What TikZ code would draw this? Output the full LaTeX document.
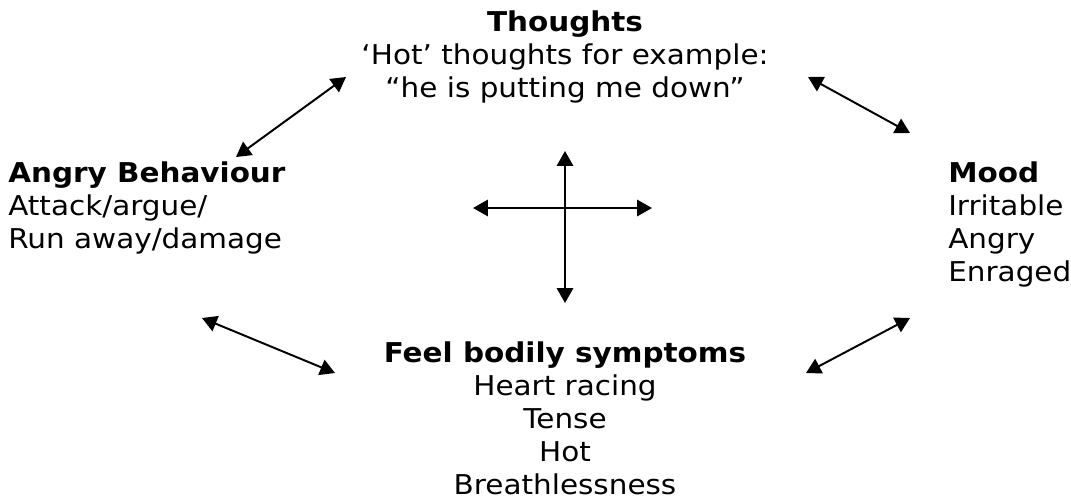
\documentclass[tikz,border=0pt]{standalone}
\usepackage{fontspec}
\setmainfont[FakeStretch=1.08]{DejaVu Sans}
\usetikzlibrary{positioning, arrows.meta}

\begin{document}
\begin{tikzpicture}[x=0.025cm, y=-0.025cm,
    txt/.style={inner sep=0pt, font=\fontsize{19.4}{23.5}\selectfont},
    link/.style={line width=1.4pt, {Triangle[length=10.5pt,width=11.5pt]}-{Triangle[length=10.5pt,width=11.5pt]}}]
  \useasboundingbox (0,0) rectangle (1071,502);

  % The four boxes of text
  \node[txt, align=center, anchor=north] (thoughts) at (565,10.5)
    {\textbf{Thoughts}\\ `Hot' thoughts for example:\\ ``he is putting me down''};
  \node[txt, align=left, anchor=north west] (behaviour) at (8,161.5)
    {\textbf{Angry Behaviour}\\ Attack/argue/\\ Run away/damage};
  \node[txt, align=left, anchor=north west] (mood) at (948,161.5)
    {\textbf{Mood}\\ Irritable\\ Angry\\ Enraged};
  \node[txt, align=center, anchor=north] (body) at (565,341.5)
    {\textbf{Feel bodily symptoms}\\ Heart racing\\ Tense\\ Hot\\ Breathlessness};

  % Arrow ends
  \coordinate (tlA) at (236,157);
  \coordinate (tlB) at (346,77);
  \coordinate (trA) at (808,77);
  \coordinate (trB) at (910,133);
  \coordinate (blA) at (202,318);
  \coordinate (blB) at (335,373);
  \coordinate (brA) at (806,373);
  \coordinate (brB) at (910,318);
  \coordinate (up) at (565,151);
  \coordinate (down) at (565,303);
  \coordinate (left) at (473,208);
  \coordinate (right) at (652,208);

  % Arrows
  \draw[link] (tlA) -- (tlB);
  \draw[link] (trA) -- (trB);
  \draw[link] (blA) -- (blB);
  \draw[link] (brA) -- (brB);
  \draw[link] (up) -- (down);
  \draw[link] (left) -- (right);
\end{tikzpicture}
\end{document}
